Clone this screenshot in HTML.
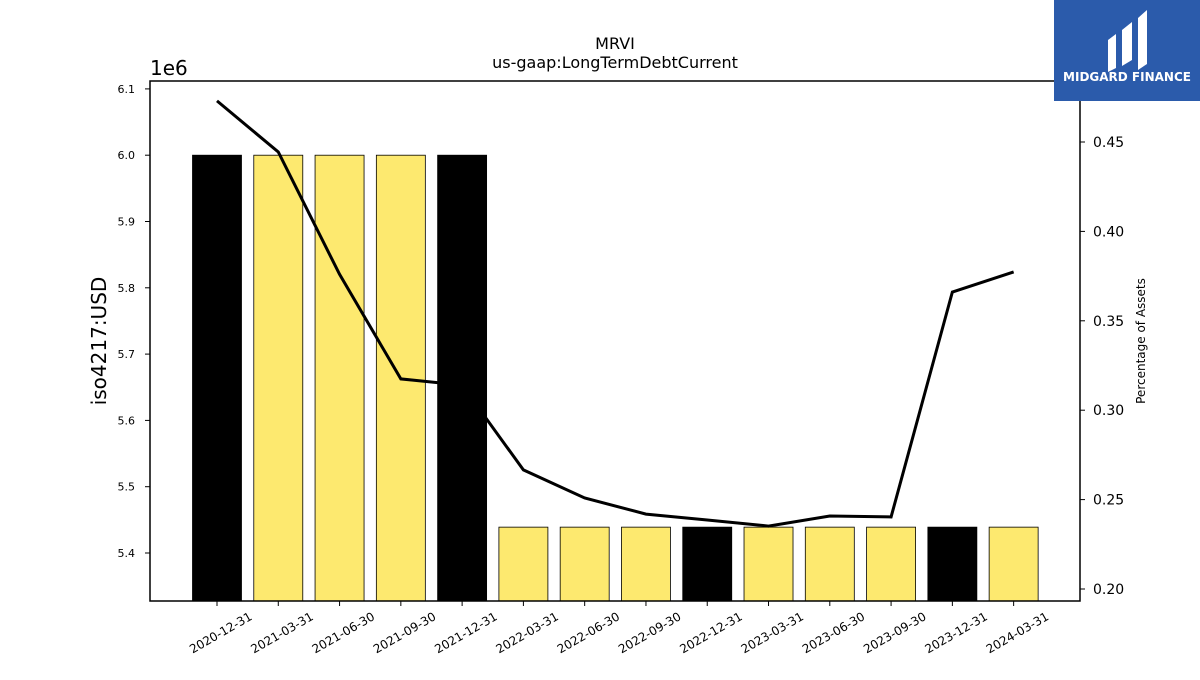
<!DOCTYPE html>
<html><head><meta charset="utf-8"><style>
body{margin:0;background:#fff;font-family:"Liberation Sans","DejaVu Sans",sans-serif}
svg text{font-family:"DejaVu Sans","Liberation Sans",sans-serif}
</style></head><body>
<svg id="chart" width="1200" height="675" xmlns="http://www.w3.org/2000/svg">
<rect width="1200" height="675" fill="#fff"/>
<text x="615" y="49" text-anchor="middle" font-size="16">MRVI</text>
<text x="615" y="68" text-anchor="middle" font-size="16">us-gaap:LongTermDebtCurrent</text>
<g id="bars"></g><g id="line"></g><g id="axes"></g>
<rect x="150" y="81" width="930" height="520" fill="none" stroke="#000" stroke-width="1.5"/>
<text x="150" y="75" font-size="20">1e6</text>
<text transform="translate(106,341) rotate(-90)" text-anchor="middle" font-size="20">iso4217:USD</text>
<text transform="translate(1145,341) rotate(-90)" text-anchor="middle" font-size="12">Percentage of Assets</text>
<g>
<rect x="1054" y="0" width="146" height="101" fill="#2b5bab"/>
<path d="M1108 40 L1116 34 L1116 68 L1108 72 Z M1122 30 L1132 22 L1132 60 L1122 66 Z M1138 18 L1147 10 L1147 64 L1138 70 Z" fill="#fff"/>
<text x="1127" y="81" text-anchor="middle" font-size="12" font-weight="bold" fill="#fff">MIDGARD FINANCE</text>
</g>
</svg>
<script>
const categories=["2020-12-31","2021-03-31","2021-06-30","2021-09-30","2021-12-31","2022-03-31","2022-06-30","2022-09-30","2022-12-31","2023-03-31","2023-06-30","2023-09-30","2023-12-31","2024-03-31"];
const barValues=[6.0e6,6.0e6,6.0e6,6.0e6,6.0e6,5.439e6,5.439e6,5.439e6,5.439e6,5.439e6,5.439e6,5.439e6,5.439e6,5.439e6];
const pctValues=[0.473,0.4444,0.376,0.3175,0.314,0.2666,0.2509,0.2419,0.2386,0.2352,0.2408,0.2403,0.3661,0.3773];
const yTicks=[5.4,5.5,5.6,5.7,5.8,5.9,6.0,6.1];
const y2Ticks=[0.20,0.25,0.30,0.35,0.40,0.45];
const NS="http://www.w3.org/2000/svg";
const X=i=>217+i*61.28;
const Y=v=>553-(v/1e6-5.4)*663;
const Y2=p=>142+(0.45-p)*1788;
function mk(t,a,p){const e=document.createElementNS(NS,t);for(const k in a)e.setAttribute(k,a[k]);p.appendChild(e);return e;}
const bars=document.getElementById('bars'),line=document.getElementById('line'),axes=document.getElementById('axes');
categories.forEach((c,i)=>{
 const y=Y(barValues[i]);
 const r=mk('rect',{x:X(i)-24.5,y:y,width:49,height:601-y,fill:c.endsWith('12-31')?'#000':'#fde96f',stroke:'#000','stroke-width':0.8},bars);
 
 
 mk('line',{x1:X(i),x2:X(i),y1:601,y2:606,stroke:'#000'},axes);
 const t=mk('text',{transform:`translate(${X(i)+32},${612}) rotate(-30)`,'text-anchor':'end','font-size':12,x:0,y:8},axes);
 t.textContent=c;
 
 
});
const pl=mk('polyline',{points:pctValues.map((p,i)=>X(i)+','+Y2(p)).join(' '),fill:'none',stroke:'#000','stroke-width':3},line);


yTicks.forEach(v=>{
 const y=Y(v*1e6);
 mk('line',{x1:145,x2:150,y1:y,y2:y,stroke:'#000'},axes);
 const t=mk('text',{x:135,y:y+4,'text-anchor':'end','font-size':11},axes);
 t.textContent=v.toFixed(1);
 
 
});
y2Ticks.forEach(v=>{
 const y=Y2(v);
 mk('line',{x1:1080,x2:1085,y1:y,y2:y,stroke:'#000'},axes);
 const t=mk('text',{x:1093,y:y+5,'font-size':14},axes);
 t.textContent=v.toFixed(2);
 
 
});
</script>
</body></html>
